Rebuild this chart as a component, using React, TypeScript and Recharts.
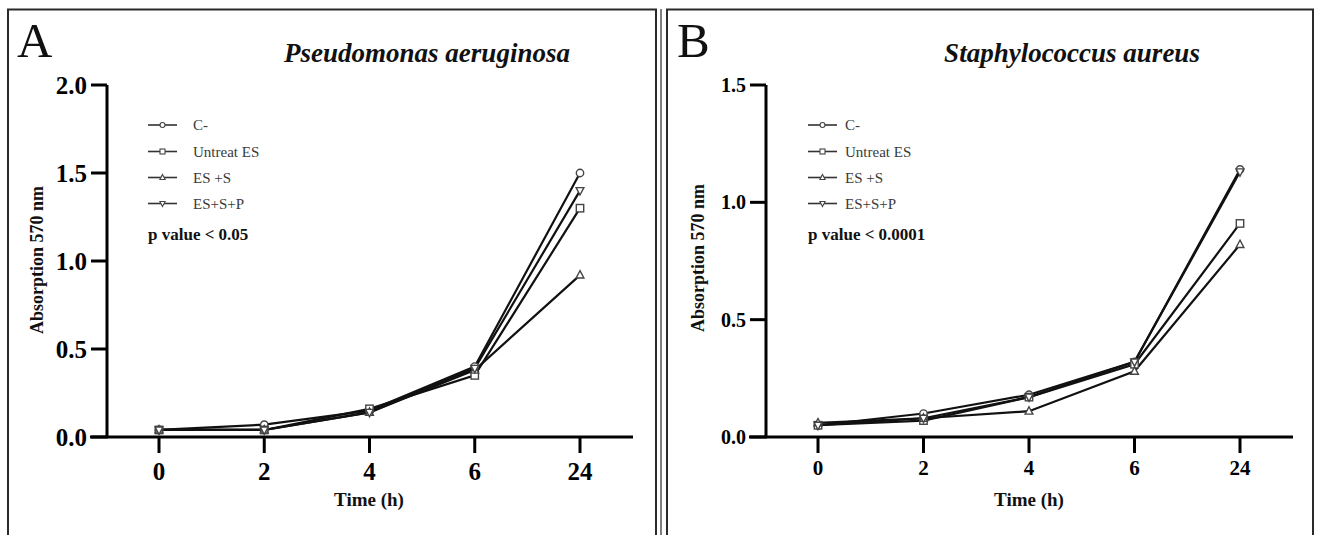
import React from 'react';
import { LineChart, Line, XAxis, YAxis } from 'recharts';

// time points (h), drawn as evenly spaced categories
const times = ['0', '2', '4', '6', '24'];

// A - Pseudomonas aeruginosa
const paCNeg = [0.04, 0.07, 0.15, 0.4, 1.5];
const paUntreat = [0.04, 0.04, 0.16, 0.35, 1.3];
const paEsS = [0.04, 0.04, 0.14, 0.38, 0.92];
const paEsSP = [0.04, 0.04, 0.14, 0.39, 1.4];

// B - Staphylococcus aureus
const saCNeg = [0.05, 0.1, 0.18, 0.32, 1.14];
const saUntreat = [0.05, 0.07, 0.17, 0.31, 0.91];
const saEsS = [0.06, 0.08, 0.11, 0.28, 0.82];
const saEsSP = [0.05, 0.08, 0.17, 0.32, 1.13];

const seriesNames = ['C-', 'Untreat ES', 'ES +S', 'ES+S+P'];
const seriesShapes = ['circle', 'square', 'triangle', 'triangleDown'];

const ticksA = [0, 0.5, 1, 1.5, 2];
const ticksB = [0, 0.5, 1, 1.5];

const SERIF = '"Liberation Serif", "DejaVu Serif", serif';

function buildRows(series: number[][]) {
  return times.map((t, i) => {
    const row: any = { time: t };
    series.forEach((s, k) => (row['s' + k] = s[i]));
    return row;
  });
}

function Marker({ shape, cx, cy, r, stroke, fill, sw }: any) {
  if (cx == null || cy == null) return null;
  if (shape === 'circle') return <circle cx={cx} cy={cy} r={r} fill={fill} stroke={stroke} strokeWidth={sw} />;
  if (shape === 'square')
    return <rect x={cx - r} y={cy - r} width={2 * r} height={2 * r} fill={fill} stroke={stroke} strokeWidth={sw} />;
  const up = shape === 'triangle' ? 1 : -1;
  const pts = `${cx},${cy - up * r * 1.2} ${cx + r * 1.05},${cy + up * r * 0.8} ${cx - r * 1.05},${cy + up * r * 0.8}`;
  return <polygon points={pts} fill={fill} stroke={stroke} strokeWidth={sw} />;
}

type PanelProps = {
  left: number;
  width: number;
  marginLeft: number;
  marginRight: number;
  rows: any[];
  ticks: number[];
  yTickFont: number;
  xTickFont: number;
  xTickMargin: number;
};

function Panel({ left, width, marginLeft, marginRight, rows, ticks, yTickFont, xTickFont, xTickMargin }: PanelProps) {
  const tickStyle = { fill: '#000', fontFamily: SERIF, fontWeight: 700 };
  return (
    <div style={{ position: 'absolute', left, top: 0 }}>
      <LineChart width={width} height={535} data={rows} margin={{ top: 85, right: marginRight, bottom: 38, left: marginLeft }}>
        <XAxis
          dataKey="time"
          interval={0}
          height={60}
          padding={{ left: 52, right: 53 }}
          tickSize={16}
          tickMargin={xTickMargin}
          axisLine={{ stroke: '#000', strokeWidth: 3 }}
          tickLine={{ stroke: '#000', strokeWidth: 3 }}
          tick={{ ...tickStyle, fontSize: xTickFont }}
        />
        <YAxis
          width={60}
          domain={[0, ticks[ticks.length - 1]]}
          ticks={ticks}
          interval={0}
          tickFormatter={(v: number) => v.toFixed(1)}
          tickSize={16}
          tickMargin={4}
          axisLine={{ stroke: '#000', strokeWidth: 3 }}
          tickLine={{ stroke: '#000', strokeWidth: 3 }}
          tick={{ ...tickStyle, fontSize: yTickFont }}
        />
        {seriesNames.map((name, k) => (
          <Line
            key={name}
            name={name}
            dataKey={'s' + k}
            type="linear"
            stroke="#111"
            strokeWidth={2.2}
            isAnimationActive={false}
            activeDot={false}
            dot={(p: any) => (
              <Marker key={`${name}-${p.index}`} shape={seriesShapes[k]} cx={p.cx} cy={p.cy} r={3.7} stroke="#444" fill="#fff" sw={1.4} />
            )}
          />
        ))}
      </LineChart>
    </div>
  );
}

function LegendBlock({ x, textX, pText }: { x: number; textX: number; pText: string }) {
  const rowsY = [125, 151.5, 177.5, 203.5];
  return (
    <g>
      {seriesNames.map((name, k) => (
        <g key={name}>
          <line x1={x} y1={rowsY[k]} x2={x + 29} y2={rowsY[k]} stroke="#333" strokeWidth={1.6} />
          <Marker shape={seriesShapes[k]} cx={x + 14.5} cy={rowsY[k]} r={2.5} stroke="#444" fill="#fff" sw={1.1} />
          <text x={textX} y={rowsY[k] + 5} fontFamily={SERIF} fontSize={15} fill="#3a3a3a">
            {name}
          </text>
        </g>
      ))}
      <text x={x} y={240} fontFamily={SERIF} fontSize={17} fontWeight={700} fill="#111">
        {pText}
      </text>
    </g>
  );
}

export default function App() {
  const rowsA = buildRows([paCNeg, paUntreat, paEsS, paEsSP]);
  const rowsB = buildRows([saCNeg, saUntreat, saEsS, saEsSP]);
  const bold = { fontFamily: SERIF, fontWeight: 700 } as const;
  return (
    <div style={{ position: 'absolute', left: 0, top: 0, width: 1319, height: 535, background: '#fff', overflow: 'hidden' }}>
      <Panel left={0} width={660} marginLeft={47} marginRight={27} rows={rowsA} ticks={ticksA} yTickFont={25} xTickFont={25} xTickMargin={9} />
      <Panel left={660} width={659} marginLeft={46} marginRight={26} rows={rowsB} ticks={ticksB} yTickFont={20} xTickFont={21} xTickMargin={7} />
      <svg width={1319} height={535} style={{ position: 'absolute', left: 0, top: 0, pointerEvents: 'none' }}>
        {/* panel frames */}
        <g stroke="#2a2a2a" strokeWidth={2} fill="none">
          <polyline points="8,536 8,9.5 656,9.5 656,536" />
          <line x1={661} y1={9} x2={661} y2={536} strokeWidth={1.2} />
          <polyline points="667,536 667,9.5 1313,9.5 1313,536" />
        </g>
        {/* x axis continues a little to the left of the y axis */}
        <line x1={90} y1={437} x2={108} y2={437} stroke="#000" strokeWidth={3} />
        <line x1={749} y1={437} x2={767} y2={437} stroke="#000" strokeWidth={3} />

        <text x={17} y={57} fontFamily={SERIF} fontSize={49} fill="#111">A</text>
        <text x={677} y={57} fontFamily={SERIF} fontSize={49} fill="#111">B</text>
        <text x={427} y={62} textAnchor="middle" fontSize={27} fontStyle="italic" {...bold} fill="#111">
          Pseudomonas aeruginosa
        </text>
        <text x={1072} y={62} textAnchor="middle" fontSize={27} fontStyle="italic" {...bold} fill="#111">
          Staphylococcus aureus
        </text>

        <text transform="translate(43,260) rotate(-90)" textAnchor="middle" fontSize={18} {...bold} fill="#111">
          Absorption 570 nm
        </text>
        <text transform="translate(704,258) rotate(-90)" textAnchor="middle" fontSize={18} {...bold} fill="#111">
          Absorption 570 nm
        </text>
        <text x={369} y={506} textAnchor="middle" fontSize={19} {...bold} fill="#111">Time (h)</text>
        <text x={1029} y={506} textAnchor="middle" fontSize={19} {...bold} fill="#111">Time (h)</text>

        <LegendBlock x={148} textX={193} pText="p value < 0.05" />
        <LegendBlock x={808} textX={845} pText="p value < 0.0001" />
      </svg>
    </div>
  );
}
